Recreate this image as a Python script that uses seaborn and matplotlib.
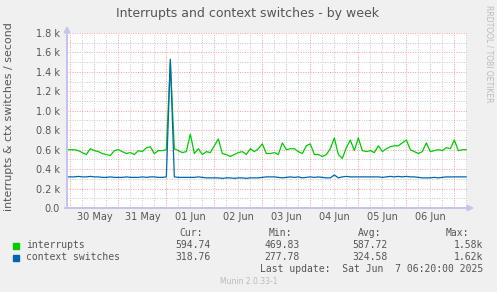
import numpy as np
import pandas as pd
import matplotlib
matplotlib.use("Agg")
import matplotlib.pyplot as plt
import seaborn as sns

# ---------------- data (thousands per second, 2-hour steps) ----------------
start_time = "2025-05-29 22:00"
step = "2h"
interrupts_k = [
    0.60, 0.60, 0.60, 0.59, 0.57, 0.55, 0.61, 0.59, 0.58, 0.56,
    0.55, 0.54, 0.59, 0.60, 0.58, 0.56, 0.57, 0.55, 0.59, 0.58,
    0.62, 0.63, 0.56, 0.59, 0.59, 0.60,
    1.50,
    0.61, 0.59, 0.57, 0.58, 0.76, 0.56, 0.61, 0.55, 0.58, 0.57,
    0.64, 0.71, 0.56, 0.55, 0.53, 0.55, 0.57, 0.58, 0.55, 0.61,
    0.58, 0.61, 0.66, 0.56,
    0.56, 0.57, 0.55, 0.67, 0.60, 0.61, 0.61, 0.58, 0.56, 0.64,
    0.66, 0.55, 0.55, 0.53, 0.55, 0.61, 0.72, 0.55, 0.51, 0.62,
    0.70, 0.59, 0.72, 0.59, 0.58,
    0.59, 0.57, 0.64, 0.58, 0.61, 0.63, 0.64, 0.64, 0.67, 0.70,
    0.60, 0.58, 0.56, 0.58, 0.67, 0.58, 0.59, 0.60, 0.59, 0.62,
    0.61, 0.70, 0.59, 0.60, 0.60,
]
ctx_switches_k = [
    0.32, 0.32, 0.32, 0.325, 0.32, 0.32, 0.325, 0.32, 0.32, 0.315,
    0.315, 0.32, 0.315, 0.315, 0.315, 0.32, 0.315, 0.315, 0.315, 0.32,
    0.315, 0.32, 0.32, 0.315, 0.315, 0.32,
    1.53,
    0.32, 0.315, 0.315, 0.315, 0.315, 0.315, 0.32, 0.315, 0.31, 0.31,
    0.31, 0.31, 0.305, 0.31, 0.31, 0.305, 0.31, 0.31, 0.305, 0.31,
    0.31, 0.31, 0.315, 0.32,
    0.32, 0.32, 0.315, 0.31, 0.315, 0.32, 0.315, 0.32, 0.31, 0.315,
    0.32, 0.315, 0.32, 0.315, 0.31, 0.31, 0.34, 0.31, 0.32, 0.325,
    0.32, 0.32, 0.32, 0.32, 0.32,
    0.32, 0.32, 0.32, 0.315, 0.32, 0.325, 0.32, 0.325, 0.32, 0.325,
    0.32, 0.32, 0.315, 0.31, 0.31, 0.31, 0.315, 0.31, 0.315, 0.32,
    0.32, 0.32, 0.32, 0.32, 0.32,
]
series_names = ["interrupts", "context switches"]
series_colors = ["#00CC00", "#0066B3"]
stat_headers = ["Cur:", "Min:", "Avg:", "Max:"]
interrupts_stats = ["594.74", "469.83", "587.72", "1.58k"]
ctx_stats = ["318.76", "277.78", "324.58", "1.62k"]
y_ticks = [0.0, 0.2, 0.4, 0.6, 0.8, 1.0, 1.2, 1.4, 1.6, 1.8]
y_tick_labels = ["0.0", "0.2 k", "0.4 k", "0.6 k", "0.8 k", "1.0 k",
                 "1.2 k", "1.4 k", "1.6 k", "1.8 k"]
day_labels = ["30 May", "31 May", "01 Jun", "02 Jun", "03 Jun",
              "04 Jun", "05 Jun", "06 Jun"]
view_start = pd.Timestamp("2025-05-29 22:20")
view_end = pd.Timestamp("2025-06-07 06:20")
title = "Interrupts and context switches - by week"
ylabel = "interrupts & ctx switches / second"
last_update = "Last update:  Sat Jun  7 06:20:00 2025"
footer = "Munin 2.0.33-1"
side_text = "RRDTOOL / TOBI OETIKER"

# ---------------- build frame ----------------
times = pd.date_range(start_time, periods=len(interrupts_k), freq=step)
df = pd.concat([
    pd.DataFrame({"time": times, "value": interrupts_k, "series": series_names[0]}),
    pd.DataFrame({"time": times, "value": ctx_switches_k, "series": series_names[1]}),
])

sns.set_theme(style="white")
plt.rcParams["font.family"] = ["DejaVu Sans"]

W, H = 497, 292
BG = "#F0F0F0"
TXT = "#555555"
fig = plt.figure(figsize=(W / 100, H / 100), dpi=100, facecolor=BG)


def fx(x):
    return x / W


def fy(y):
    return 1 - y / H


L, R, T, B = 67, 467, 33, 208
ax = fig.add_axes([fx(L), fy(B), (R - L) / W, (B - T) / H])
ax.set_facecolor("white")

# grid (drawn first)
minor_col = "#C8C8C8"
major_col = "#F0A0A0"
for v in np.arange(0.1, 1.85, 0.1):
    major = abs(round(v * 10) % 2) == 0
    ax.axhline(v, color=major_col if major else minor_col, lw=0.7,
               ls=(0, (1, 1.5)), zorder=1)
for t in pd.date_range("2025-05-30 00:00", view_end, freq="6h"):
    ax.axvline(t, color=major_col if t.hour == 0 else minor_col, lw=0.7,
               ls=(0, (1, 1.5)), zorder=1)

sns.lineplot(data=df, x="time", y="value", hue="series",
             palette=dict(zip(series_names, series_colors)),
             hue_order=series_names, legend=False, lw=0.9, ax=ax, zorder=3)

ax.set_xlim(view_start, view_end)
ax.set_ylim(0, 1.8)
ax.set_xlabel("")
ax.set_ylabel("")
ax.set_yticks(y_ticks)
ax.set_yticklabels(y_tick_labels)
noons = pd.date_range("2025-05-30 12:00", periods=len(day_labels), freq="1D")
ax.set_xticks(noons)
ax.set_xticklabels(day_labels)
ax.tick_params(axis="both", length=0, labelsize=7, colors=TXT)
ax.tick_params(axis="y", pad=5)
ax.tick_params(axis="x", pad=3)
for s in ax.spines.values():
    s.set_visible(False)

# axis arrows
axis_col = "#C4C4F0"
fig.add_artist(matplotlib.patches.FancyArrow(
    fx(L), fy(B), 0, fy(27) - fy(B), width=0.0, head_width=0.012,
    head_length=0.02, length_includes_head=True, color=axis_col, lw=0.8,
    transform=fig.transFigure))
fig.add_artist(matplotlib.patches.FancyArrow(
    fx(L - 3), fy(B), fx(473) - fx(L - 3), 0, width=0.0, head_width=0.02,
    head_length=0.012, length_includes_head=True, color=axis_col, lw=0.8,
    transform=fig.transFigure))

# texts
fig.text(fx(248), fy(13), title, ha="center", va="center", fontsize=9, color=TXT)
fig.text(fx(9), fy(117), ylabel, ha="center", va="center", rotation=90,
         fontsize=7.9, color=TXT)
fig.text(fx(489), fy(5), side_text, ha="center", va="top", rotation=270,
         fontsize=5.5, color="#BBBBBB")

mono = "DejaVu Sans Mono"
fs = 7
hdr_x = [203, 292, 381, 469]
val_x = [211, 300, 388, 483]
for h, x in zip(stat_headers, hdr_x):
    fig.text(fx(x), fy(233), h, ha="right", va="center", family=mono, fontsize=fs, color=TXT)
rows = [(245.5, series_names[0], series_colors[0], interrupts_stats),
        (257.5, series_names[1], series_colors[1], ctx_stats)]
for y, name, col, stats in rows:
    fig.add_artist(matplotlib.patches.Rectangle(
        (fx(13), fy(y + 3)), 6 / W, 6 / H, color=col, transform=fig.transFigure))
    fig.text(fx(26.5), fy(y), name, ha="left", va="center", family=mono, fontsize=fs, color=TXT)
    for s, x in zip(stats, val_x):
        fig.text(fx(x), fy(y), s, ha="right", va="center", family=mono, fontsize=fs, color=TXT)
fig.text(fx(483), fy(269.5), last_update, ha="right", va="center", family=mono,
         fontsize=fs, color=TXT)
fig.text(fx(248.5), fy(281), footer, ha="center", va="center", fontsize=5.5, color="#BBBBBB")

fig.savefig("out.png", dpi=100, facecolor=BG)
